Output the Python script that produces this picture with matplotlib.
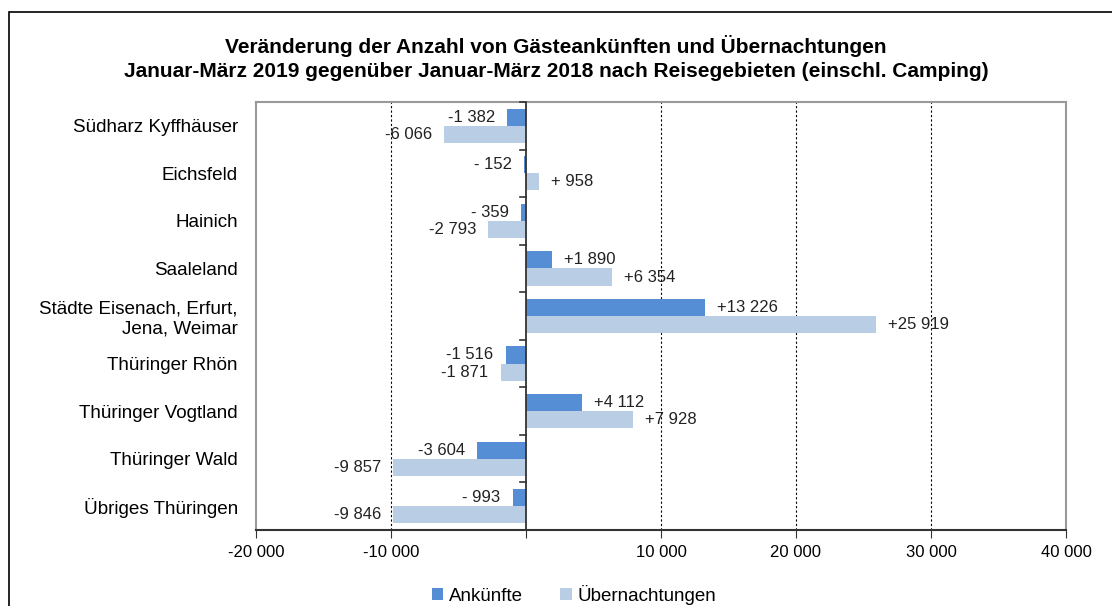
import numpy as np
import matplotlib.pyplot as plt
from matplotlib.patches import Rectangle

plt.rcParams['font.family'] = ['Liberation Sans', 'DejaVu Sans']

regions = ["Südharz Kyffhäuser", "Eichsfeld", "Hainich", "Saaleland",
           "Städte Eisenach, Erfurt,\nJena, Weimar", "Thüringer Rhön",
           "Thüringer Vogtland", "Thüringer Wald", "Übriges Thüringen"]
ankuenfte = [-1382, -152, -359, 1890, 13226, -1516, 4112, -3604, -993]
uebernachtungen = [-6066, 958, -2793, 6354, 25919, -1871, 7928, -9857, -9846]
xticks = [-20000, -10000, 0, 10000, 20000, 30000, 40000]

col_ank = '#558ed5'
col_ueb = '#b9cde5'


def fmt(v):
    sign = '+' if v > 0 else '-'
    s = '{:,}'.format(abs(v)).replace(',', ' ')
    if abs(v) < 1000:
        s = ' ' + s
    return sign + s


def tick_fmt(v):
    if v == 0:
        return ''
    s = '{:,}'.format(abs(v)).replace(',', ' ')
    return ('-' if v < 0 else '') + s


fig = plt.figure(figsize=(11.12, 6.06), dpi=100)
ax = fig.add_axes([256 / 1112, 1 - 530 / 606, 810 / 1112, 428 / 606])

# outer frame of the chart object
fig.patches.append(Rectangle((9 / 1112, -0.1), 1.2, 1.1 - 12 / 606,
                             transform=fig.transFigure, fill=False,
                             edgecolor='black', linewidth=1.2, zorder=0))

n = len(regions)
y = np.arange(n)
h = 0.36
ax.barh(y - h / 2, ankuenfte, h, color=col_ank, label='Ankünfte', zorder=3)
ax.barh(y + h / 2, uebernachtungen, h, color=col_ueb, label='Übernachtungen', zorder=3)

ax.set_xlim(-20000, 40000)
ax.set_ylim(n - 0.5, -0.5)

for i in range(n):
    for v, yy in ((ankuenfte[i], y[i] - h / 2), (uebernachtungen[i], y[i] + h / 2)):
        off = 900 if v > 0 else -900
        ax.text(v + off, yy, fmt(v), ha='left' if v > 0 else 'right',
                va='center', fontsize=12, color='#222222', zorder=4)

for gx in xticks[1:-1]:
    if gx != 0:
        ax.axvline(gx, color='black', linestyle=(0, (2, 2)), linewidth=0.8, zorder=1)

for s in ('top', 'right', 'left'):
    ax.spines[s].set_color('#999999')
    ax.spines[s].set_linewidth(1.5)
ax.spines['bottom'].set_color('#333333')
ax.spines['bottom'].set_linewidth(1.5)

ax.set_xticks(xticks)
ax.set_xticklabels([tick_fmt(v) for v in xticks], fontsize=12)
ax.tick_params(axis='x', direction='out', length=6, color='#333333', pad=5)

ax.set_yticks(y)
ax.set_yticklabels(regions, fontsize=13.6, ha='right')
ax.tick_params(axis='y', length=0, pad=13)
for lab in ax.get_yticklabels():
    lab.set_multialignment('right')

# value axis at zero with ticks between categories
ax.axvline(0, color='#333333', linewidth=1.3, zorder=4)
for b in np.arange(-0.5, n + 0.5, 1):
    ax.plot([-450, 0], [b, b], color='#333333', linewidth=1.2, zorder=4,
            clip_on=False)

fig.text(0.5, 1 - 58 / 606,
         "Veränderung der Anzahl von Gästeankünften und Übernachtungen\n"
         "Januar-März 2019 gegenüber Januar-März 2018 nach Reisegebieten (einschl. Camping)",
         ha='center', va='center', fontsize=15, fontweight='bold', linespacing=1.3)

fig.legend(loc='center', bbox_to_anchor=(574 / 1112, 1 - 595 / 606), ncol=2,
           frameon=False, fontsize=13.5, handlelength=0.6, handleheight=0.6,
           handletextpad=0.3, columnspacing=2.0)

fig.savefig('out.png', dpi=100)
